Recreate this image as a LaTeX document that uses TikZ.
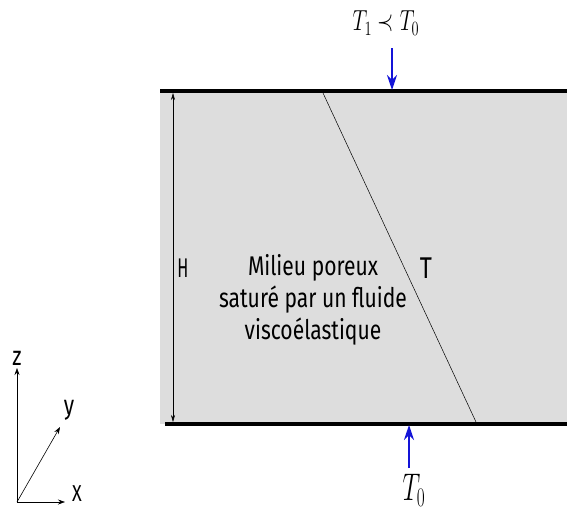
\documentclass[tikz,border=0pt]{standalone}
\usepackage{fontspec}
\newfontfamily\labfont[FakeStretch=0.78]{Fira Sans}
\newfontfamily\thinfont[FakeStretch=0.6]{Fira Sans}
\usetikzlibrary{arrows.meta}
\definecolor{layer}{RGB}{221,221,221}
\definecolor{flux}{RGB}{20,20,215}
\tikzset{
  wall/.style={line width=4pt},
  flow/.style={flux, line width=1.8pt, -{Stealth[length=15pt,width=10pt,inset=5pt]}},
  axis/.style={line width=0.6pt, -{Stealth[length=7pt,width=5pt]}},
  lab/.style={font=\labfont\fontsize{27}{32}\selectfont, align=center, inner sep=0pt},
  small/.style={font=\labfont\fontsize{27}{28}\selectfont, inner sep=0pt},
  mlab/.style={inner sep=0pt}
}
\begin{document}
\begin{tikzpicture}[x=1pt,y=-1pt]
\useasboundingbox (0,0) rectangle (567,517);
\fill[layer] (160,91) rectangle (567,424);
\coordinate (tl) at (160,91);
\coordinate (tr) at (567,91);
\coordinate (bl) at (165,424);
\coordinate (br) at (567,424);
\draw[wall] (tl) -- (tr);
\draw[wall] (bl) -- (br);
\coordinate (d1) at (323,93);
\coordinate (d2) at (476,422);
\draw[line width=0.5pt] (d1) -- (d2);
\coordinate (h1) at (173,93);
\coordinate (h2) at (173,422);
\draw[line width=0.5pt, {Stealth[length=7pt,width=4pt]}-{Stealth[length=7pt,width=4pt]}] (h1) -- (h2);
\node[inner sep=0pt, font=\thinfont\fontsize{27}{28}\selectfont] (H) at (183,268) {H};
\node[lab] (txt) at (313,300) {Milieu poreux\\saturé par un fluide\\viscoélastique};
\node[lab, font=\labfont\fontsize{30}{32}\selectfont] (T) at (426,268) {T};
\node[mlab] (top) at (386,23) {\scalebox{1}[1.4]{\fontsize{20}{22}\selectfont$T_1 \prec T_0$}};
\coordinate (ta) at (392,48);
\coordinate (tb) at (392,90);
\draw[flow] (ta) -- (tb);
\coordinate (ba) at (409,468);
\coordinate (bb) at (409,425);
\draw[flow] (ba) -- (bb);
\node[mlab] (bot) at (414,490) {\scalebox{1}[1.55]{\fontsize{24}{26}\selectfont$T_0$}};
\coordinate (o) at (17,502);
\coordinate (zz) at (17,368);
\coordinate (xx) at (65,502);
\coordinate (yy) at (60,427);
\draw[axis] (o) -- (zz);
\draw[axis] (o) -- (xx);
\draw[axis] (o) -- (yy);
\node[small] (zl) at (17,358) {z};
\node[small] (yl) at (69,410) {y};
\node[small, font=\labfont\fontsize{23}{24}\selectfont] (xl) at (77,494) {X};
\end{tikzpicture}
\end{document}
